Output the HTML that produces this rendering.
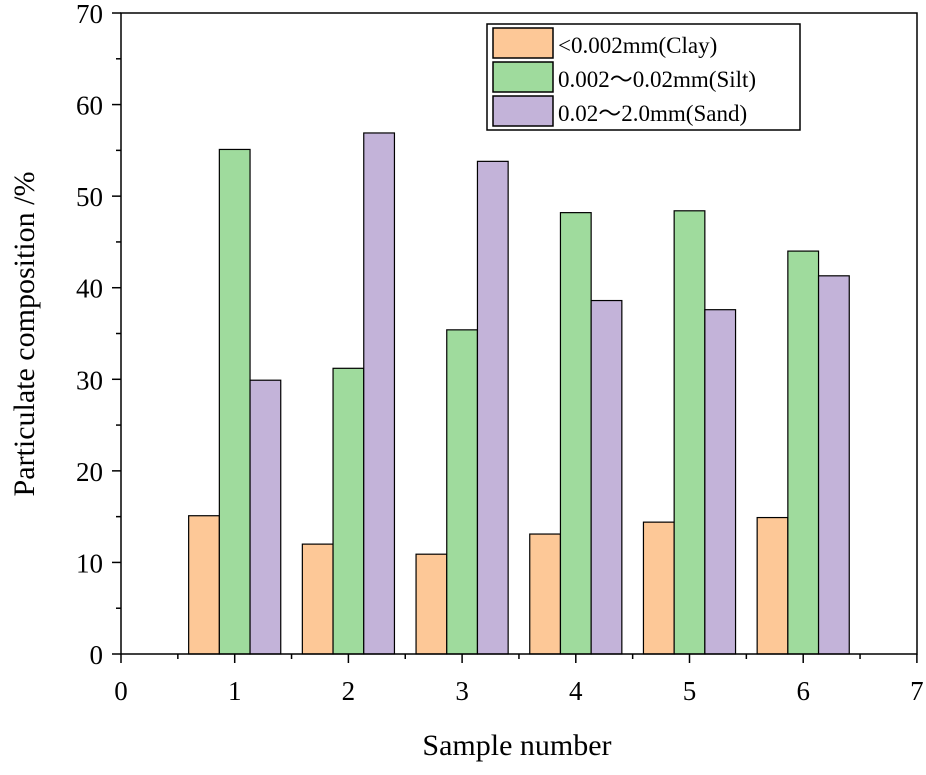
<!DOCTYPE html>
<html><head><meta charset="utf-8"><style>
body{margin:0;background:#fff}
svg text{font-family:"Liberation Serif",serif;fill:#000}
</style></head><body>
<svg width="926" height="770" xmlns="http://www.w3.org/2000/svg">
<g id="bars"></g>
<rect x="121" y="13" width="796" height="641" fill="none" stroke="#000" stroke-width="1.5"/>
<g id="axes"></g>
<text x="517" y="755" font-size="30" text-anchor="middle">Sample number</text>
<text transform="translate(34,334) rotate(-90)" font-size="30" text-anchor="middle">Particulate composition /%</text>
<g>
<rect x="487" y="24" width="313" height="106" fill="#fff" stroke="#000" stroke-width="1.5"/>
<rect x="493" y="28" width="60" height="30" fill="#fdc897" stroke="#000" stroke-width="1.5"/>
<rect x="493" y="62" width="60" height="30" fill="#9fdb9d" stroke="#000" stroke-width="1.5"/>
<rect x="493" y="96" width="60" height="30" fill="#c3b3d9" stroke="#000" stroke-width="1.5"/>
<text x="558" y="53" font-size="23">&lt;0.002mm(Clay)</text>
<text x="558" y="87" font-size="23">0.002～0.02mm(Silt)</text>
<text x="558" y="121" font-size="23">0.02～2.0mm(Sand)</text>
</g>
</svg>
<script>
const samples=[1,2,3,4,5,6];
const clay=[15.1,12.0,10.9,13.1,14.4,14.9];
const silt=[55.1,31.2,35.4,48.2,48.4,44.0];
const sand=[29.9,56.9,53.8,38.6,37.6,41.3];
const xTicks=[0,1,2,3,4,5,6,7];
const yTicks=[0,10,20,30,40,50,60,70];
const NS="http://www.w3.org/2000/svg";
const X=v=>121+v*113.7, Y=v=>654-v*9.157;
const bw=0.27;
const bars=document.getElementById('bars'), axes=document.getElementById('axes');
function mk(tag,at,parent){const e=document.createElementNS(NS,tag);for(const k in at)e.setAttribute(k,at[k]);parent.appendChild(e);return e;}
const series=[[clay,'#fdc897',-1,'clay'],[silt,'#9fdb9d',0,'silt'],[sand,'#c3b3d9',1,'sand']];
series.forEach(([vals,col,off,nm])=>{vals.forEach((v,i)=>{
 const x0=X(samples[i]+off*bw-bw/2), x1=X(samples[i]+off*bw+bw/2);
 const r=mk('rect',{x:x0,y:Y(v),width:x1-x0,height:Y(0)-Y(v),fill:col,stroke:'#000','stroke-width':1.2},bars);
 
 
});});
xTicks.forEach((t,i)=>{
 mk('line',{x1:X(t),x2:X(t),y1:654,y2:663,stroke:'#000','stroke-width':1.5},axes);
 if(i<xTicks.length-1)mk('line',{x1:X(t+0.5),x2:X(t+0.5),y1:654,y2:659,stroke:'#000','stroke-width':1.5},axes);
 const tx=mk('text',{x:X(t),y:700,'font-size':27,'text-anchor':'middle'},axes);tx.textContent=t;
 
 
});
yTicks.forEach((t,i)=>{
 mk('line',{x1:112,x2:121,y1:Y(t),y2:Y(t),stroke:'#000','stroke-width':1.5},axes);
 if(i<yTicks.length-1)mk('line',{x1:116,x2:121,y1:Y(t+5),y2:Y(t+5),stroke:'#000','stroke-width':1.5},axes);
 const tx=mk('text',{x:103,y:Y(t)+10,'font-size':27,'text-anchor':'end'},axes);tx.textContent=t;
 
 
});
</script>
</body></html>
